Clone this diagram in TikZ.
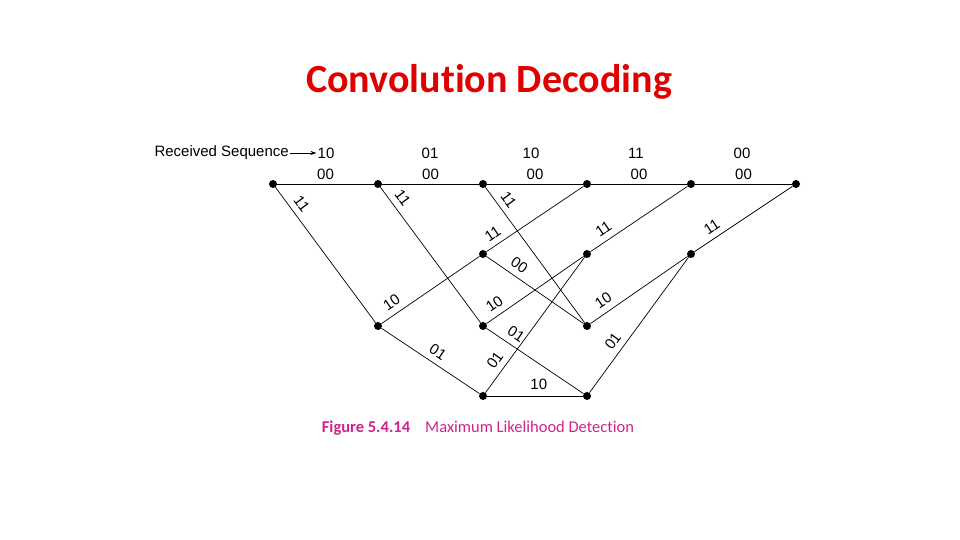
\documentclass[tikz,border=0pt]{standalone}
\usepackage{fontspec}
\setmainfont{Liberation Sans}
\newfontfamily\calibri[Ligatures=NoCommon]{Carlito}
\usetikzlibrary{arrows.meta,positioning}
\definecolor{titlered}{HTML}{E00000}
\definecolor{capmagenta}{HTML}{D2218C}
\tikzset{
      dot/.style = {circle, fill=black, inner sep=0pt, minimum size=8pt},   % trellis state
      txt/.style = {font=\fontsize{15}{17}\selectfont, inner sep=1pt},
      lbl/.style = {txt, sloped, above=5pt},
     tran/.style = {line width=0.7pt},
        }
\begin{document}
\begin{tikzpicture}[x=1pt, y=1pt]
  \useasboundingbox (0,0) rectangle (960,540);

  \node[font=\calibri\bfseries\fontsize{40}{46}\selectfont, text=titlered] (title) at (489,458) {Convolution Decoding};

  % trellis states
  \node[dot] (a0) at (273,356) {};
  \node[dot] (a1) at (378,356) {};
  \node[dot] (a2) at (483,356) {};
  \node[dot] (a3) at (587,356) {};
  \node[dot] (a4) at (691,356) {};
  \node[dot] (a5) at (796,356) {};
  \node[dot] (b2) at (483,286) {};
  \node[dot] (b3) at (587,286) {};
  \node[dot] (b4) at (691,286) {};
  \node[dot] (c1) at (378,214) {};
  \node[dot] (c2) at (483,214) {};
  \node[dot] (c3) at (587,214) {};
  \node[dot] (d2) at (483,144) {};
  \node[dot] (d3) at (587,144) {};

  % received sequence
  \node[txt, anchor=east] (rs) at (290,387) {Received Sequence};
  \node[txt] (r1) at (326,387) {10};
  \node[txt] (r2) at (430,387) {01};
  \node[txt] (r3) at (531,387) {10};
  \node[txt] (r4) at (636,387) {11};
  \node[txt] (r5) at (742,387) {00};
  \draw[-{Stealth[length=6pt,width=4pt]}, line width=0.6pt] (rs.east) -- (r1.west);

  % top row
  \draw[tran] (a0) -- node[txt, above=3pt] {00} (a1);
  \draw[tran] (a1) -- node[txt, above=3pt] {00} (a2);
  \draw[tran] (a2) -- node[txt, above=3pt] {00} (a3);
  \draw[tran] (a3) -- node[txt, above=3pt] {00} (a4);
  \draw[tran] (a4) -- node[txt, above=3pt] {00} (a5);

  % other branches
  \draw[tran] (a0) -- node[lbl, pos=0.17] {11} (c1);
  \draw[tran] (a1) -- node[lbl, pos=0.13] {11} (c2);
  \draw[tran] (a2) -- node[lbl, pos=0.14] {11} (c3);
  \draw[tran] (b2) -- node[lbl, pos=0.13] {11} (a3);
  \draw[tran] (b3) -- node[lbl, pos=0.2] {11} (a4);
  \draw[tran] (b4) -- node[lbl, pos=0.24] {11} (a5);
  \draw[tran] (c1) -- node[lbl, pos=0.17] {10} (b2);
  \draw[tran] (c1) -- node[lbl, pos=0.51] {01} (d2);
  \draw[tran] (b2) -- node[lbl, pos=0.27] {00} (c3);
  \draw[tran] (c2) -- node[lbl, pos=0.15] {10} (b3);
  \draw[tran] (c2) -- node[lbl, pos=0.24] {01} (d3);
  \draw[tran] (d2) -- node[lbl, pos=0.19] {01} (b3);
  \draw[tran] (d2) -- node[lbl, pos=0.54] {10} (d3);
  \draw[tran] (c3) -- node[lbl, pos=0.2] {10} (b4);
  \draw[tran] (d3) -- node[lbl, pos=0.33] {01} (b4);

  \node[font=\calibri\fontsize{16.5}{19}\selectfont, text=capmagenta] (cap) at (478,112)
       {\textbf{Figure 5.4.14}\hspace{15pt}Maximum Likelihood Detection};
\end{tikzpicture}
\end{document}
